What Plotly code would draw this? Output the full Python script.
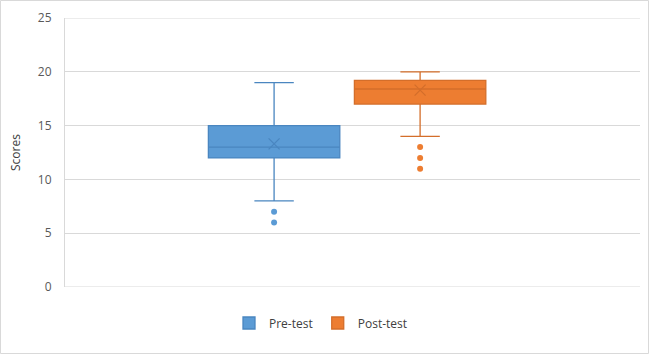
import plotly.graph_objects as go

# ---- data ----
series = ["Pre-test", "Post-test"]
q1 = [12, 17]
median = [13, 18.4]
q3 = [15, 19.2]
lower_whisker = [8, 14]
upper_whisker = [19, 20]
means = [13.3, 18.3]
outliers = [[7, 6], [13, 12, 11]]
y_ticks = [0, 5, 10, 15, 20, 25]

fill_colors = ["#5B9BD5", "#ED7D31"]
line_colors = ["#4A86C0", "#D46E2A"]

W, H = 649, 354
L, R, T, B = 65, 9, 18, 67
pw, ph = W - L - R, H - T - B

fig = go.Figure()
for i, name in enumerate(series):
    fig.add_trace(go.Box(
        name=name, x=[name],
        q1=[q1[i]], median=[median[i]], q3=[q3[i]],
        lowerfence=[lower_whisker[i]], upperfence=[upper_whisker[i]],
        boxpoints=False, width=0.9, whiskerwidth=0.3,
        fillcolor=fill_colors[i], line=dict(color=line_colors[i], width=1.3),
        showlegend=True,
    ))
for i, name in enumerate(series):
    fig.add_trace(go.Scatter(
        x=[name], y=[means[i]], mode="markers", showlegend=False, hoverinfo="skip",
        marker=dict(symbol="x-thin", size=11, line=dict(color=line_colors[i], width=1.3)),
    ))
    fig.add_trace(go.Scatter(
        x=[name] * len(outliers[i]), y=outliers[i], mode="markers", showlegend=False,
        marker=dict(symbol="circle", size=6, color=fill_colors[i]),
    ))

fig.update_layout(
    width=W, height=H,
    margin=dict(l=L, r=R, t=T, b=B, autoexpand=False),
    paper_bgcolor="white", plot_bgcolor="white",
    font=dict(family="Open Sans", size=12, color="#595959"),
    legend=dict(orientation="h", x=(321 - L) / pw, xanchor="center", y=-(323 - T - ph) / ph,
                yanchor="middle", font=dict(size=12, color="#404040"), itemwidth=30,
                traceorder="normal"),
    xaxis=dict(type="category", categoryorder="array", categoryarray=series,
               range=[-1.432, 2.506], showticklabels=False, ticks="", showgrid=False,
               zeroline=False, showline=False),
    yaxis=dict(range=[0, 25], tickvals=y_ticks, showgrid=True, gridcolor="#D9D9D9",
               gridwidth=1, zeroline=False, showline=True, linecolor="#D9D9D9",
               ticks="", ticklabelstandoff=10, automargin=False,
               title=dict(text="Scores", font=dict(size=12, color="#404040"), standoff=14)),
    shapes=[
        dict(type="line", xref="paper", yref="y", x0=0, x1=1, y0=y_ticks[0], y1=y_ticks[0],
             line=dict(color="#D9D9D9", width=1), layer="below"),
        dict(type="line", xref="paper", yref="y", x0=0, x1=1, y0=y_ticks[-1], y1=y_ticks[-1],
             line=dict(color="#D9D9D9", width=1), layer="below"),
        dict(type="rect", xref="paper", yref="paper",
             x0=-(L - 0.5) / pw, x1=(W - 0.5 - L) / pw,
             y0=-(B - 0.5) / ph, y1=(H - 0.5 - B) / ph,
             line=dict(color="#D9D9D9", width=1)),
    ],
)

fig.write_html("out.html", config={"displayModeBar": False},
               post_script="document.body.style.margin='0';")
